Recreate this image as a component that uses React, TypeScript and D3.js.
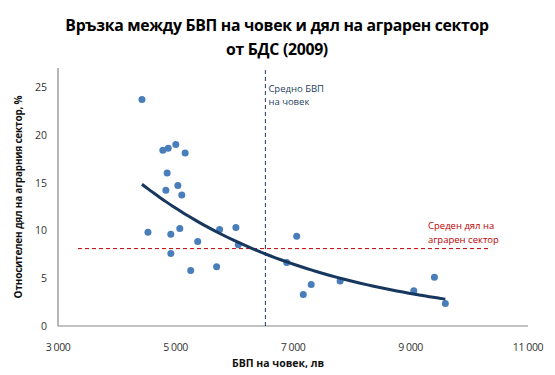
import React from "react";
import * as d3 from "d3";

const gdp = [4429, 4785, 4876, 5005, 5164, 4858, 4836, 5040, 5107, 4531, 4920, 5073, 5378, 4920, 5259, 5700, 5751, 6028, 6068, 7063, 6893, 7310, 7175, 7802, 9407, 9056, 9593];
const agri = [23.7, 18.4, 18.6, 19.0, 18.1, 16.0, 14.2, 14.7, 13.7, 9.8, 9.6, 10.2, 8.85, 7.6, 5.8, 6.2, 10.1, 10.3, 8.5, 9.4, 6.65, 4.35, 3.3, 4.7, 5.1, 3.7, 2.35];
const xTicks = [3000, 5000, 7000, 9000, 11000];
const yTicks = [0, 5, 10, 15, 20, 25];
const meanGdp = 6530;
const meanAgri = 8.1;
const titleLines = ["Връзка между БВП на човек и дял на аграрен сектор", "от БДС (2009)"];
const xTitle = "БВП на човек, лв";
const yTitle = "Относителен дял на аграрния сектор, %";
const gdpNote = ["Средно БВП", "на човек"];
const agriNote = ["Среден дял на", "аграрен сектор"];

const fmt = (v: number) => d3.format(",")(v).replace(/,/g, " ");

export default function App() {
  const W = 555, H = 375;
  const x = d3.scaleLinear().domain([3000, 11000]).range([58, 528]);
  const y = d3.scaleLinear().domain([0, 27]).range([326, 68]);

  // exponential trend (least squares on ln y)
  const n = gdp.length;
  const lys = agri.map(Math.log);
  const mx = d3.mean(gdp)!;
  const my = d3.mean(lys)!;
  let sxy = 0, sxx = 0;
  for (let i = 0; i < n; i++) { sxy += (gdp[i] - mx) * (lys[i] - my); sxx += (gdp[i] - mx) ** 2; }
  const b = sxy / sxx;
  const a = Math.exp(my - b * mx);
  const [xmin, xmax] = d3.extent(gdp) as [number, number];
  const trendX = d3.range(0, 51).map(i => xmin + (xmax - xmin) * i / 50);
  const line = d3.line<number>().x(d => x(d)).y(d => y(a * Math.exp(b * d))).curve(d3.curveMonotoneX);

  const font = "'Open Sans', 'Noto Sans', sans-serif";
  return (
    <svg width={W} height={H} style={{ position: "absolute", left: 0, top: 0, background: "#fff" }} fontFamily={font}>
      <rect width={W} height={H} fill="#fff" />
      {titleLines.map((t, i) => (
        <text key={i} x={277} y={31 + i * 24} textAnchor="middle" fontSize={15.8} fontWeight="bold" fill="#000" letterSpacing={-0.3}>{t}</text>
      ))}
      {/* axes */}
      <line x1={x(3000)} x2={x(3000)} y1={68} y2={y(0)} stroke="#868686" strokeWidth={1.2} />
      <line x1={x(3000)} x2={x(11000)} y1={y(0)} y2={y(0)} stroke="#868686" strokeWidth={1.2} />
      {yTicks.map(t => (
        <text key={t} x={47} y={y(t) + 4} textAnchor="end" fontSize={10.5} fill="#333">{t}</text>
      ))}
      {xTicks.map(t => (
        <text key={t} x={x(t)} y={351} textAnchor="middle" fontSize={10.5} fill="#333" letterSpacing={-0.4}>{fmt(t)}</text>
      ))}
      <text x={278} y={367} textAnchor="middle" fontSize={10.5} fontWeight="bold" fill="#111">{xTitle}</text>
      <text transform={`translate(22,${y(13.5)}) rotate(-90)`} textAnchor="middle" fontSize={10} fontWeight="bold" fill="#111" letterSpacing={-0.2}>{yTitle}</text>
      {/* mean lines */}
      <line x1={x(meanGdp)} x2={x(meanGdp)} y1={70} y2={y(0)} stroke="#1f3864" strokeWidth={1} strokeDasharray="4,3" />
      <line x1={78} x2={488} y1={y(meanAgri)} y2={y(meanAgri)} stroke="#c00000" strokeWidth={1} strokeDasharray="4,3" />
      {gdpNote.map((t, i) => (
        <text key={i} x={x(meanGdp) + 3} y={92 + i * 13} fontSize={9.5} fill="#243f60">{t}</text>
      ))}
      {agriNote.map((t, i) => (
        <text key={i} x={428} y={229 + i * 13.5} fontSize={9.5} fill="#c00000">{t}</text>
      ))}
      {/* points */}
      {gdp.map((g, i) => (
        <circle key={i} cx={x(g)} cy={y(agri[i])} r={3.5} fill="#4a7ebb" />
      ))}
      <path d={line(trendX)!} fill="none" stroke="#17375e" strokeWidth={3} />
    </svg>
  );
}
